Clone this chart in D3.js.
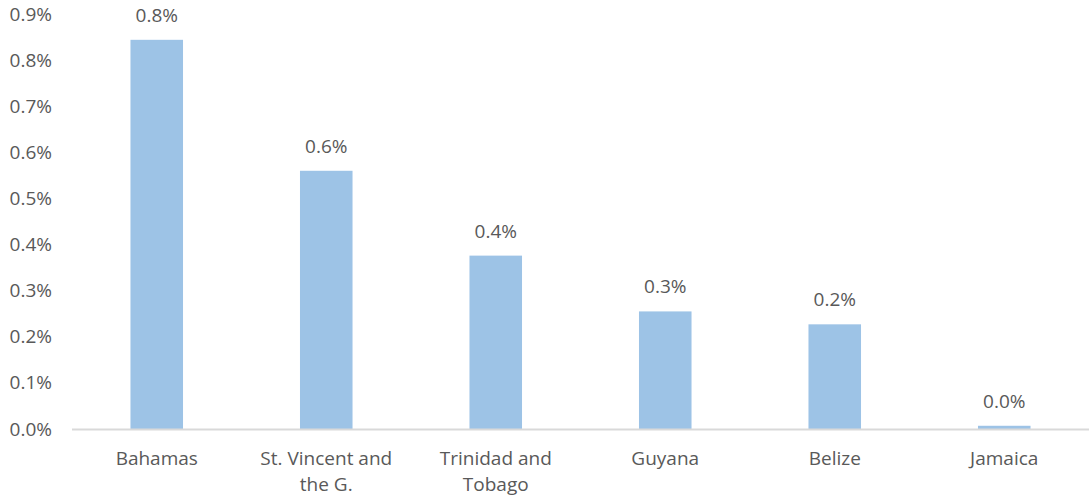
<!DOCTYPE html>
<html>
<head>
<meta charset="utf-8">
<script src="https://cdn.jsdelivr.net/npm/d3@7"></script>
<style>
  html, body { margin: 0; padding: 0; background: #ffffff; }
  svg { display: block; }
  text { font-family: "Open Sans", "Noto Sans", sans-serif; fill: #595959; }
</style>
</head>
<body>
<svg id="chart" width="1089" height="498"></svg>
<script>
// Country labels (each entry is a list of display lines)
const countries = [
  ["Bahamas"],
  ["St. Vincent and", "the G."],
  ["Trinidad and", "Tobago"],
  ["Guyana"],
  ["Belize"],
  ["Jamaica"]
];
// Share values, in percent
const shares = [0.844, 0.560, 0.376, 0.255, 0.227, 0.007];
// Y-axis ticks, in percent
const yTicks = [0, 0.1, 0.2, 0.3, 0.4, 0.5, 0.6, 0.7, 0.8, 0.9];

const width = 1089, height = 498;
const margin = { top: 14, right: 0, bottom: 69, left: 72 };
const baseY = height - margin.bottom; // 429

const svg = d3.select("#chart");
const keys = countries.map(d => d.join(" "));

const x = d3.scaleBand()
  .domain(keys)
  .range([margin.left, width - margin.right])
  .paddingInner(0.69)
  .paddingOuter(0.345);

const y = d3.scaleLinear()
  .domain([0, 0.9])
  .range([baseY, margin.top]);

const fmt = v => d3.format(".1f")(v) + "%";

// Y axis: labels only, no line or tick marks
const yAxis = svg.append("g")
  .attr("transform", `translate(${margin.left},0)`)
  .call(d3.axisLeft(y).tickValues(yTicks).tickFormat(fmt).tickSize(0).tickPadding(20));
yAxis.select(".domain").remove();
yAxis.selectAll("text")
  .style("font-family", "'Open Sans', 'Noto Sans', sans-serif")
  .style("font-size", "19px")
  .attr("fill", "#595959");

// Bars
svg.append("g").selectAll("rect")
  .data(shares)
  .join("rect")
  .attr("x", (d, i) => x(keys[i]))
  .attr("width", x.bandwidth())
  .attr("y", d => y(d))
  .attr("height", d => baseY - y(d))
  .attr("fill", "#9dc3e6");

// Baseline
svg.append("line")
  .attr("x1", margin.left).attr("x2", width)
  .attr("y1", baseY + 0.5).attr("y2", baseY + 0.5)
  .attr("stroke", "#d9d9d9")
  .attr("stroke-width", 2);

// Value labels above bars
svg.append("g").selectAll("text")
  .data(shares)
  .join("text")
  .attr("x", (d, i) => x(keys[i]) + x.bandwidth() / 2)
  .attr("y", d => y(d) - 18)
  .attr("text-anchor", "middle")
  .style("font-size", "19px")
  .text(d => fmt(d));

// Category labels
const cat = svg.append("g").selectAll("text")
  .data(countries)
  .join("text")
  .attr("x", (d, i) => x(keys[i]) + x.bandwidth() / 2)
  .attr("y", baseY + 36)
  .attr("text-anchor", "middle")
  .style("font-size", "19px");
cat.selectAll("tspan")
  .data(d => d)
  .join("tspan")
  .attr("x", function () { return d3.select(this.parentNode).attr("x"); })
  .attr("dy", (d, i) => i === 0 ? 0 : 26)
  .text(d => d);
</script>
</body>
</html>
